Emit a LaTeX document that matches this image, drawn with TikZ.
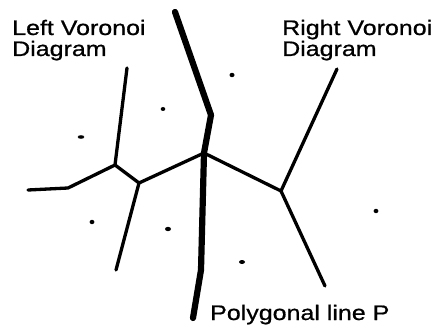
\documentclass[tikz,border=0pt]{standalone}
\usepackage{fontspec}
\newfontfamily\labfont[FakeStretch=1.19,FakeBold=0.8]{Liberation Sans}
\begin{document}
\begin{tikzpicture}[x=1pt,y=-1pt,
  vline/.style={line width=3.3pt,line cap=round,line join=round},
  pline/.style={line width=6.2pt,line cap=round,line join=round},
  site/.style={fill=black},
  lab/.style={font=\labfont\fontsize{21}{21}\selectfont,anchor=base west,inner sep=0pt}]
\useasboundingbox (0,0) rectangle (439,331);
% polygonal line P
\coordinate (p1) at (175,12);
\coordinate (p2) at (211,115);
\coordinate (p3) at (204,153);
\coordinate (p4) at (201,270);
\coordinate (p5) at (193,318);
\draw[pline] (p1) -- (p2) -- (p3) -- (p4) -- (p5);
% left Voronoi diagram
\coordinate (la) at (115,165);
\coordinate (lb) at (68,188);
\coordinate (lc) at (139,183);
\coordinate (ltop) at (127,68);
\coordinate (lleft) at (28,190);
\coordinate (lbot) at (116,270);
\draw[vline] (ltop) -- (la) -- (lb) -- (lleft);
\draw[vline] (la) -- (lc) -- (p3);
\draw[vline] (lc) -- (lbot);
% right Voronoi diagram
\coordinate (ra) at (281,191);
\coordinate (rtop) at (337,69);
\coordinate (rbot) at (325,286);
\draw[vline] (p3) -- (ra) -- (rtop);
\draw[vline] (ra) -- (rbot);
% sites
\fill[site] (163,109) ellipse (2.3pt and 2pt);
\fill[site] (81,137) ellipse (3.3pt and 1.8pt);
\fill[site] (232,75) ellipse (2.5pt and 2.2pt);
\fill[site] (92,222) ellipse (2.4pt and 2.2pt);
\fill[site] (168,229) ellipse (3pt and 2.2pt);
\fill[site] (376,211) ellipse (2.4pt and 2.2pt);
\fill[site] (242,262) ellipse (3pt and 2pt);
% labels
\node[lab] (ltext1) at (12,35) {Left Voronoi};
\node[lab] (ltext2) at (12,56) {Diagram};
\node[lab] (rtext1) at (282,35) {Right Voronoi};
\node[lab] (rtext2) at (282,56) {Diagram};
\node[lab] (ptext) at (210,320) {Polygonal line P};
\end{tikzpicture}
\end{document}
